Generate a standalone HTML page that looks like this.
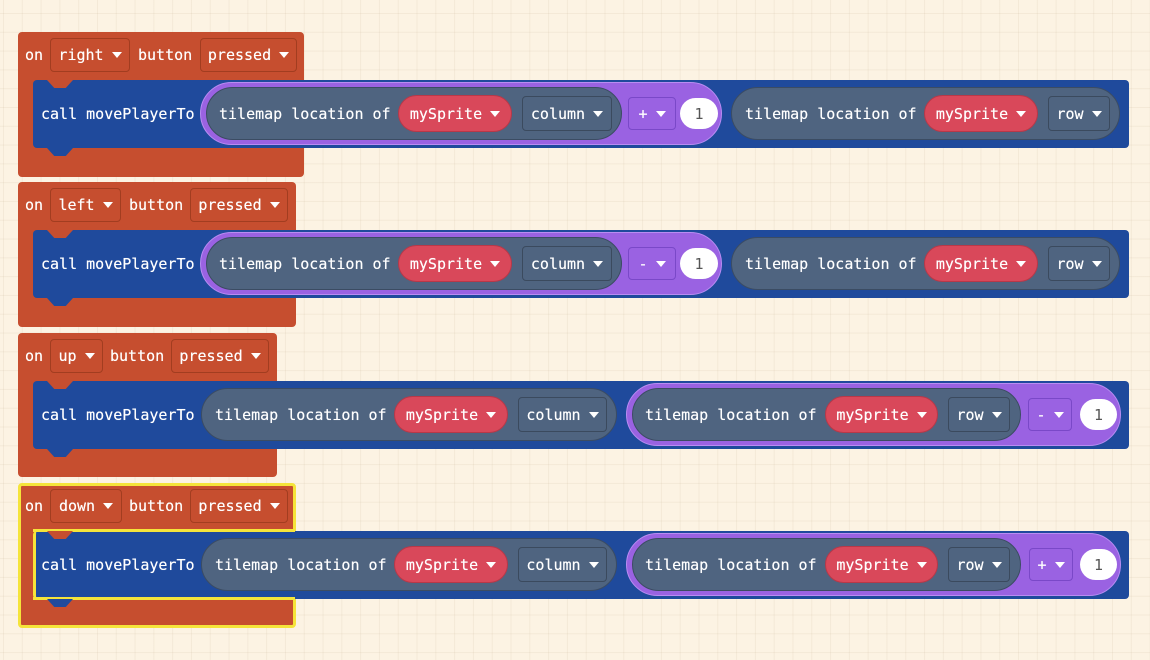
<!DOCTYPE html>
<html><head><meta charset="utf-8"><style>
*{box-sizing:border-box;margin:0;padding:0}
body{width:1150px;height:660px;overflow:hidden;position:relative;background-color:#fcf3e3;
background-image:linear-gradient(to right,rgba(200,180,150,.16) 1px,transparent 1px),linear-gradient(to bottom,rgba(200,180,150,.16) 1px,transparent 1px);
background-size:18.8px 18.8px;background-position:3px 13px;
font-family:"DejaVu Sans Mono","Liberation Mono",monospace;font-size:15px;color:#fff;text-shadow:0 0 0.4px #fff}
.a{position:absolute}
.ev{position:absolute;left:18px;background:#c64e2f;border-radius:4px}
.hd{position:absolute;top:6px;height:34px;border:1px solid #a23d20;border-radius:4px;display:flex;align-items:center;justify-content:center}
.lb{position:absolute;line-height:20px}
.blue{position:absolute;left:33px;width:1096px;height:68px;background:#1f4a9c;border-radius:4px}
.notch{position:absolute;left:47px;width:26px;height:8px;background:#c64e2f;clip-path:polygon(0 0,100% 0,72% 100%,28% 100%)}
.tab{position:absolute;left:47px;width:26px;height:8px;background:#1f4a9c;clip-path:polygon(0 0,100% 0,72% 100%,28% 100%)}
.pp{position:absolute;top:2px;height:63px;border-radius:32px;background:#9a62e2;border:1px solid #b98cf2}
.gp{position:absolute;top:7px;height:53px;border-radius:27px;background:#4f6480;border:1px solid #3b4c63}
.gp span{position:absolute;top:16px;line-height:20px}
.rd{position:absolute;top:15px;height:37px;border-radius:19px;background:#d9485a;border:1px solid #b83848;display:flex;align-items:center;justify-content:center}
.dd{position:absolute;top:16px;height:35px;border-radius:4px;border:1px solid #3b4a5e;display:flex;align-items:center;justify-content:center}
.op{position:absolute;top:17px;height:33px;border-radius:4px;border:1px solid #7a48c8;display:flex;align-items:center;justify-content:center}
.ci{position:absolute;top:18px;height:31px;border-radius:16px;background:#fff;color:#555;text-shadow:none;display:flex;align-items:center;justify-content:center}
.tr{display:inline-block;width:0;height:0;border-left:5px solid transparent;border-right:5px solid transparent;border-top:6px solid #fff;margin-left:8px;vertical-align:middle}
.txt{position:absolute;top:24px;line-height:20px}
</style></head><body>

<!-- block 1 -->
<div class="ev" style="top:32px;width:286px;height:145px"></div>
<div class="lb a" style="left:25px;top:45px">on</div>
<div class="hd a" style="left:50px;top:38px;width:80px">right<i class="tr"></i></div>
<div class="lb a" style="left:138px;top:45px">button</div>
<div class="hd a" style="left:200px;top:38px;width:97px">pressed<i class="tr"></i></div>
<div class="blue" style="top:80px"></div>
<div class="notch" style="top:80px"></div>
<div class="tab" style="top:148px"></div>
<div class="a" style="left:0;top:80px;width:1150px;height:68px">
 <div class="txt" style="left:41px">call movePlayerTo</div>
 <div class="pp" style="left:200px;width:522px"></div>
 <div class="gp" style="left:206px;width:416px"><span style="left:12px">tilemap location of</span></div>
 <div class="rd" style="left:398px;width:114px">mySprite<i class="tr"></i></div>
 <div class="dd" style="left:522px;width:90px">column<i class="tr"></i></div>
 <div class="op" style="left:628px;width:48px">+<i class="tr"></i></div>
 <div class="ci" style="left:680px;width:38px">1</div>
 <div class="gp" style="left:731px;width:389px"><span style="left:13px">tilemap location of</span></div>
 <div class="rd" style="left:924px;width:114px">mySprite<i class="tr"></i></div>
 <div class="dd" style="left:1048px;width:62px">row<i class="tr"></i></div>
</div>

<!-- block 2 -->
<div class="ev" style="top:182px;width:278px;height:145px"></div>
<div class="lb a" style="left:25px;top:195px">on</div>
<div class="hd a" style="left:50px;top:188px;width:71px">left<i class="tr"></i></div>
<div class="lb a" style="left:129px;top:195px">button</div>
<div class="hd a" style="left:190px;top:188px;width:98px">pressed<i class="tr"></i></div>
<div class="blue" style="top:230px"></div>
<div class="notch" style="top:230px"></div>
<div class="tab" style="top:298px"></div>
<div class="a" style="left:0;top:230px;width:1150px;height:68px">
 <div class="txt" style="left:41px">call movePlayerTo</div>
 <div class="pp" style="left:200px;width:522px"></div>
 <div class="gp" style="left:206px;width:416px"><span style="left:12px">tilemap location of</span></div>
 <div class="rd" style="left:398px;width:114px">mySprite<i class="tr"></i></div>
 <div class="dd" style="left:522px;width:90px">column<i class="tr"></i></div>
 <div class="op" style="left:628px;width:48px">-<i class="tr"></i></div>
 <div class="ci" style="left:680px;width:38px">1</div>
 <div class="gp" style="left:731px;width:389px"><span style="left:13px">tilemap location of</span></div>
 <div class="rd" style="left:924px;width:114px">mySprite<i class="tr"></i></div>
 <div class="dd" style="left:1048px;width:62px">row<i class="tr"></i></div>
</div>

<!-- block 3 -->
<div class="ev" style="top:333px;width:259px;height:144px"></div>
<div class="lb a" style="left:25px;top:346px">on</div>
<div class="hd a" style="left:50px;top:339px;width:53px">up<i class="tr"></i></div>
<div class="lb a" style="left:110px;top:346px">button</div>
<div class="hd a" style="left:171px;top:339px;width:98px">pressed<i class="tr"></i></div>
<div class="blue" style="top:381px"></div>
<div class="notch" style="top:381px"></div>
<div class="tab" style="top:449px"></div>
<div class="a" style="left:0;top:381px;width:1150px;height:68px">
 <div class="txt" style="left:41px">call movePlayerTo</div>
 <div class="gp" style="left:201px;width:416px"><span style="left:13px">tilemap location of</span></div>
 <div class="rd" style="left:394px;width:114px">mySprite<i class="tr"></i></div>
 <div class="dd" style="left:518px;width:89px">column<i class="tr"></i></div>
 <div class="pp" style="left:626px;width:495px"></div>
 <div class="gp" style="left:632px;width:389px"><span style="left:12px">tilemap location of</span></div>
 <div class="rd" style="left:825px;width:113px">mySprite<i class="tr"></i></div>
 <div class="dd" style="left:948px;width:62px">row<i class="tr"></i></div>
 <div class="op" style="left:1028px;width:44px">-<i class="tr"></i></div>
 <div class="ci" style="left:1080px;width:37px">1</div>
</div>

<!-- block 4 (selected) -->
<div class="ev" style="top:483px;width:278px;height:145px;border:3px solid #f5e43a"></div>
<div class="lb a" style="left:25px;top:496px">on</div>
<div class="hd a" style="left:50px;top:489px;width:72px">down<i class="tr"></i></div>
<div class="lb a" style="left:129px;top:496px">button</div>
<div class="hd a" style="left:190px;top:489px;width:98px">pressed<i class="tr"></i></div>
<div class="blue" style="top:531px;border-left:3px solid #f5e43a"></div>
<div class="a" style="left:33px;top:529px;width:262px;height:3px;background:#f5e43a"></div>
<div class="a" style="left:33px;top:597px;width:262px;height:3px;background:#f5e43a"></div>
<div class="notch" style="top:531px"></div>
<div class="tab" style="top:599px"></div>
<div class="a" style="left:0;top:531px;width:1150px;height:68px">
 <div class="txt" style="left:41px">call movePlayerTo</div>
 <div class="gp" style="left:201px;width:416px"><span style="left:13px">tilemap location of</span></div>
 <div class="rd" style="left:394px;width:114px">mySprite<i class="tr"></i></div>
 <div class="dd" style="left:518px;width:89px">column<i class="tr"></i></div>
 <div class="pp" style="left:626px;width:495px"></div>
 <div class="gp" style="left:632px;width:389px"><span style="left:12px">tilemap location of</span></div>
 <div class="rd" style="left:825px;width:113px">mySprite<i class="tr"></i></div>
 <div class="dd" style="left:948px;width:62px">row<i class="tr"></i></div>
 <div class="op" style="left:1029px;width:44px">+<i class="tr"></i></div>
 <div class="ci" style="left:1080px;width:37px">1</div>
</div>

</body></html>
